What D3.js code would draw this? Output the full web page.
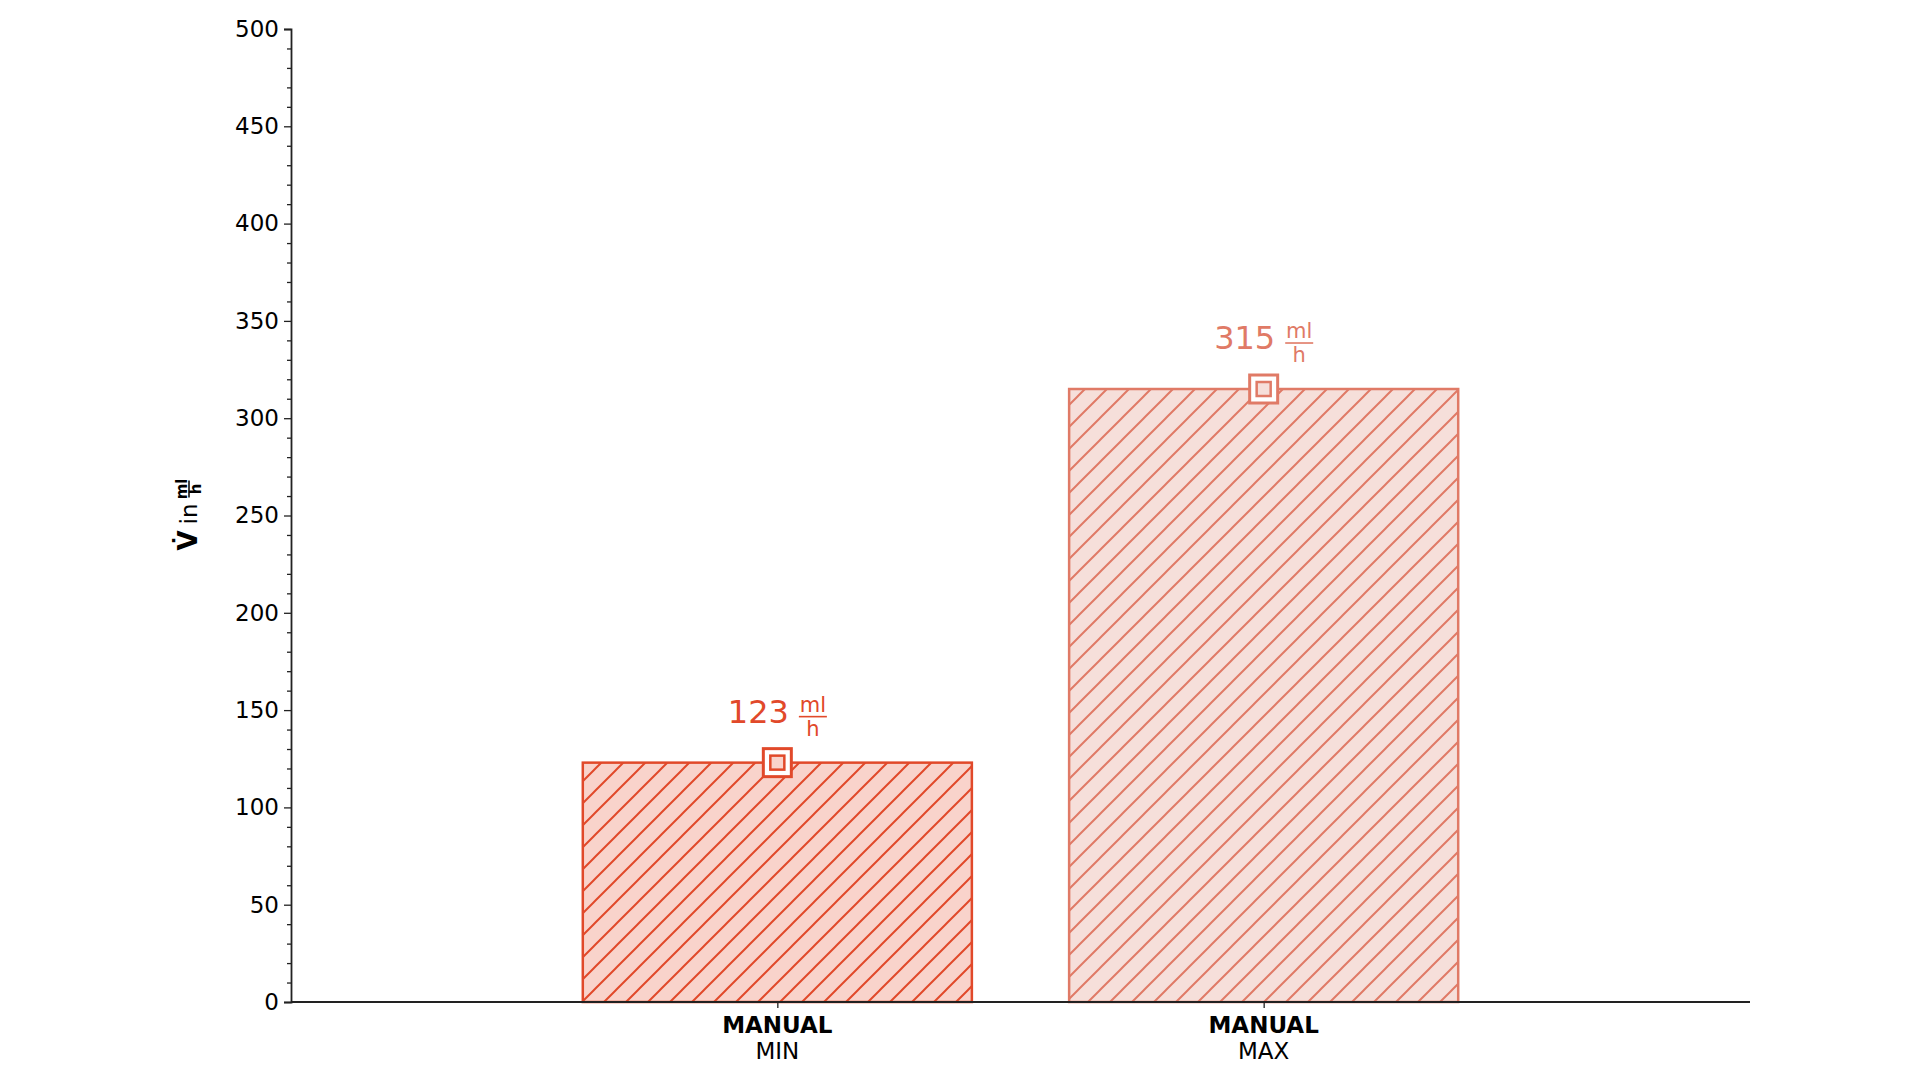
<!DOCTYPE html>
<style>
  body { margin: 0; background: #fff; }
  svg { font-family: "DejaVu Sans", sans-serif; }
</style>
<svg width="1920" height="1080"></svg>
<script src="https://cdn.jsdelivr.net/npm/d3@7"></script>
<script>

  var categories = ["MIN", "MAX"],
    groupLabels = ["MANUAL", "MANUAL"],
    values = [123, 315],
    strokeColors = ["#e1492a", "#e07a66"],
    fillColors = ["#f9d3cb", "#f6dfda"],
    yTicks = [0, 50, 100, 150, 200, 250, 300, 350, 400, 450, 500];

  var svg = d3.select("svg"),
    margin = { left: 291, right: 170, top: 29, bottom: 78 },
    width = +svg.attr("width"),
    height = +svg.attr("height");

  // categories sit at 0 and 1, axis runs from -1 to 2 like the original plot
  var x = d3.scaleLinear().domain([-1, 2]).range([margin.left, width - margin.right]);
  var y = d3.scaleLinear().domain([0, 500]).range([height - margin.bottom, margin.top]);
  var barW = 0.8;

  var defs = svg.append("defs");
  values.forEach(function (v, i) {
    var p = defs.append("pattern")
      .attr("id", "hatch" + i)
      .attr("patternUnits", "userSpaceOnUse")
      .attr("width", 22).attr("height", 22);
    p.append("rect").attr("width", 22).attr("height", 22).attr("fill", fillColors[i]);
    p.append("path")
      .attr("d", "M-2,24 L24,-2 M-13,13 L13,-13 M9,35 L35,9")
      .attr("stroke", strokeColors[i]).attr("stroke-width", 2);
  });

  // bars
  svg.selectAll("rect.bar")
    .data(values)
    .enter().append("rect")
    .attr("class", "bar")
    .attr("x", function (d, i) { return x(i - barW / 2); })
    .attr("width", function (d, i) { return x(i + barW / 2) - x(i - barW / 2); })
    .attr("y", function (d) { return y(d); })
    .attr("height", function (d) { return y(0) - y(d); })
    .attr("fill", function (d, i) { return "url(#hatch" + i + ")"; })
    .attr("stroke", function (d, i) { return strokeColors[i]; })
    .attr("stroke-width", 2.5);

  // axes
  var yAxis = svg.append("g")
    .attr("transform", "translate(" + margin.left + ",0)")
    .call(d3.axisLeft(y).tickValues(yTicks).tickSize(7).tickPadding(5));
  yAxis.selectAll("text").attr("font-size", 23).attr("font-family", "DejaVu Sans").attr("fill", "#000");

  var yMinor = svg.append("g")
    .attr("transform", "translate(" + margin.left + ",0)")
    .call(d3.axisLeft(y).tickValues(d3.range(0, 501, 10).filter(function (t) { return t % 50; }))
      .tickSize(4).tickFormat(""));
  yMinor.select(".domain").remove();

  var xAxis = svg.append("g")
    .attr("transform", "translate(0," + y(0) + ")")
    .call(d3.axisBottom(x).tickValues([0, 1]).tickSize(6).tickFormat(""));

  svg.selectAll(".domain").attr("stroke", "#222").attr("stroke-width", 1.8);
  svg.selectAll(".tick line").attr("stroke", "#222").attr("stroke-width", 1.3);
  xAxis.select(".domain").attr("d", "M" + x(-1) + ",0H" + x(2));

  // category labels
  categories.forEach(function (c, i) {
    svg.append("text")
      .attr("x", x(i)).attr("y", y(0) + 31)
      .attr("text-anchor", "middle")
      .attr("font-size", 23).attr("font-weight", "bold")
      .text(groupLabels[i]);
    svg.append("text")
      .attr("x", x(i)).attr("y", y(0) + 57)
      .attr("text-anchor", "middle")
      .attr("font-size", 23)
      .text(c);
  });

  // markers and value labels
  values.forEach(function (v, i) {
    var cx = x(i), cy = y(v), col = strokeColors[i];
    svg.append("rect")
      .attr("x", cx - 14).attr("y", cy - 14).attr("width", 28).attr("height", 28)
      .attr("fill", "#fff").attr("stroke", col).attr("stroke-width", 3);
    svg.append("rect")
      .attr("x", cx - 7).attr("y", cy - 7).attr("width", 14).attr("height", 14)
      .attr("fill", fillColors[i]).attr("stroke", col).attr("stroke-width", 2.5);

    var g = svg.append("g").attr("fill", col);
    var num = g.append("text").attr("font-size", 32).attr("y", cy - 40).text(v);
    var nw = num.node().getComputedTextLength();
    var fw = 28, gap = 10, total = nw + gap + fw, x0 = cx - total / 2;
    num.attr("x", x0);
    var fx = x0 + nw + gap + fw / 2, fy = cy - 46;
    g.append("text").attr("x", fx).attr("y", fy - 5).attr("text-anchor", "middle")
      .attr("font-size", 21).text("ml");
    g.append("line").attr("x1", fx - fw / 2).attr("x2", fx + fw / 2)
      .attr("y1", fy).attr("y2", fy).attr("stroke", col).attr("stroke-width", 1.6);
    g.append("text").attr("x", fx).attr("y", fy + 19).attr("text-anchor", "middle")
      .attr("font-size", 21).text("h");
  });

  // y axis title: V̇ in ml/h
  var yl = svg.append("g")
    .attr("transform", "translate(197," + (y(250)) + ") rotate(-90)");
  var t1 = yl.append("text").attr("font-size", 26).attr("font-weight", "bold").text("V\u0307");
  var t2 = yl.append("text").attr("font-size", 23).text("in");
  var w1 = t1.node().getComputedTextLength(), w2 = t2.node().getComputedTextLength();
  var fwy = 17, tot = w1 + 6 + w2 + 6 + fwy, s = -tot / 2;
  t1.attr("x", s);
  t2.attr("x", s + w1 + 6);
  var fxy = s + w1 + 6 + w2 + 6 + fwy / 2;
  yl.append("text").attr("x", fxy).attr("y", -10).attr("text-anchor", "middle")
    .attr("font-size", 15).attr("font-weight", "bold").text("ml");
  yl.append("line").attr("x1", fxy - fwy / 2).attr("x2", fxy + fwy / 2)
    .attr("y1", -8).attr("y2", -8).attr("stroke", "#000").attr("stroke-width", 1.5);
  yl.append("text").attr("x", fxy).attr("y", 4).attr("text-anchor", "middle")
    .attr("font-size", 15).attr("font-weight", "bold").text("h");

</script>
